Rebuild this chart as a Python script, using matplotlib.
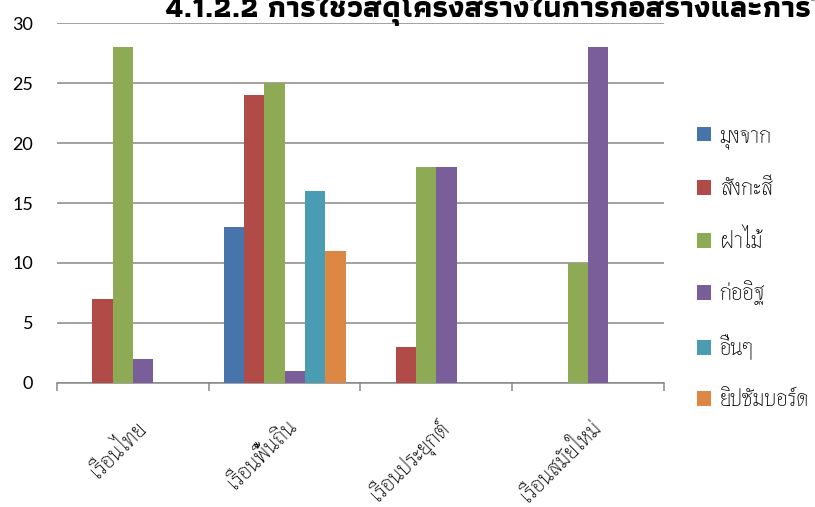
"""
Bar chart: construction materials by house type (Thai labels)
"""
import matplotlib
matplotlib.use("Agg")
import numpy as np
from matplotlib import pyplot as plt

THAI = ["Thasadith", "DejaVu Sans"]
TITLE_FONT = ["Athiti", "DejaVu Sans"]
NUM = ["Lato", "DejaVu Sans"]

categories = ["เรือนไทย", "เรือนพื้นถิ่น", "เรือนประยุกต์", "เรือนสมัยใหม่"]
series_names = ["มุงจาก", "สังกะสี", "ฝาไม้", "ก่ออิฐ", "อื่นๆ", "ยิปซัมบอร์ด"]
mung_jak = [0, 13, 0, 0]
sangkasi = [7, 24, 3, 0]
fa_mai = [28, 25, 18, 10]
kor_it = [2, 1, 18, 28]
uen_uen = [0, 16, 0, 0]
gypsum = [0, 11, 0, 0]
series_values = [mung_jak, sangkasi, fa_mai, kor_it, uen_uen, gypsum]
colors = ["#4774AA", "#B04B48", "#8FAA55", "#7A5E9A", "#4A9CB3", "#DC8744"]
y_ticks = [0, 5, 10, 15, 20, 25, 30]
title = "4.1.2.2 การใช้วัสดุโครงสร้างในการก่อสร้างและการใช้"


def main():
    fig = plt.figure(figsize=(8.15, 5.07), dpi=100)
    ax = fig.add_axes([0.0699, 0.2446, 0.7448, 0.71])

    x = np.arange(len(categories))
    width = 0.134
    for i, (name, vals) in enumerate(zip(series_names, series_values)):
        ax.bar(x + (i - 2.5) * width, vals, width, color=colors[i], label=name, zorder=3)

    ax.set_xlim(-0.5, len(categories) - 0.5)
    ax.set_ylim(0, 30)
    ax.set_yticks(y_ticks)
    ax.set_yticklabels([str(t) for t in y_ticks], fontfamily=NUM, fontsize=13)
    ax.tick_params(axis="y", length=0, pad=17)
    ax.grid(axis="y", color="#878787", linewidth=1.1, zorder=0)

    # group boundaries carry the tick marks, labels sit at group centres
    ax.set_xticks(np.arange(len(categories) + 1) - 0.5)
    ax.set_xticklabels([])
    ax.tick_params(axis="x", which="major", length=6, color="#878787", width=1.1)
    ax.set_xticks(x, minor=True)
    ax.set_xticklabels(categories, minor=True, rotation=45, ha="right",
                       rotation_mode="anchor", fontfamily=THAI, fontsize=16)
    ax.tick_params(axis="x", which="minor", length=0, pad=23)

    for s in ["left", "right", "top"]:
        ax.spines[s].set_visible(False)
    ax.spines["bottom"].set_color("#878787")
    ax.spines["bottom"].set_linewidth(1.1)

    ax.legend(loc="center left", bbox_to_anchor=(1.054, 0.322), frameon=False,
              prop={"family": THAI, "size": 16}, handlelength=0.63,
              handleheight=0.63, handletextpad=0.4, labelspacing=1.31,
              borderpad=0, borderaxespad=0)

    fig.text(165 / 815, 1 - 17 / 507, title, fontfamily=TITLE_FONT, fontsize=22,
             fontweight="bold", va="baseline", ha="left")

    fig.savefig("out.png", dpi=100)


if __name__ == "__main__":
    main()
